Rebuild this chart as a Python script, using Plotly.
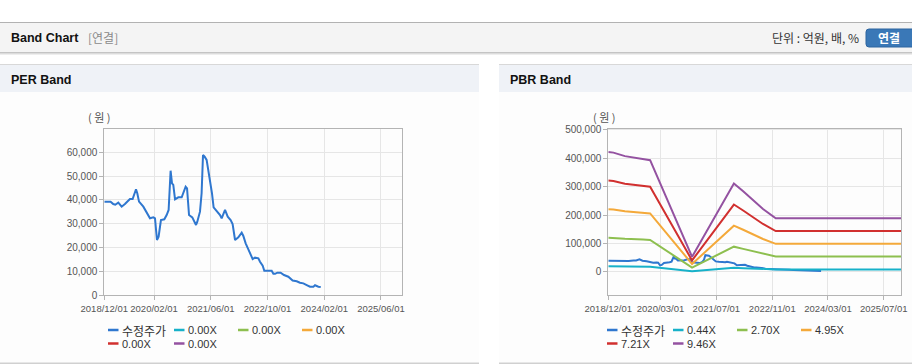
import plotly.graph_objects as go

# ---------------- data ----------------
price_dates = ["2018-12-01","2019-01-24","2019-02-16","2019-03-05","2019-03-31","2019-04-29","2019-05-27",
               "2019-07-09","2019-08-01","2019-08-30","2019-09-10","2019-09-25","2019-11-01","2019-12-05",
               "2019-12-28","2020-01-26","2020-02-09","2020-02-26","2020-03-11","2020-03-31","2020-04-29",
               "2020-05-19","2020-06-05","2020-06-22","2020-07-04","2020-07-15","2020-07-30","2020-08-27",
               "2020-09-25","2020-10-29","2020-11-10","2020-11-27","2020-12-25","2021-01-26","2021-02-06",
               "2021-03-01","2021-03-15","2021-03-27","2021-04-10","2021-04-27","2021-05-12","2021-05-26",
               "2021-06-12","2021-06-26","2021-07-22","2021-08-20","2021-09-03","2021-09-17","2021-10-02",
               "2021-10-25","2021-11-19","2021-12-06","2021-12-27","2022-01-24","2022-02-22","2022-03-08",
               "2022-03-28","2022-04-20","2022-05-10","2022-05-27","2022-06-16","2022-07-15","2022-07-29",
               "2022-08-21","2022-09-04","2022-09-30","2022-11-06","2022-11-21","2022-12-05","2022-12-25",
               "2023-01-22","2023-02-20","2023-03-29","2023-05-05","2023-06-09","2023-07-07","2023-08-05",
               "2023-09-03","2023-10-01","2023-10-30","2023-11-13","2023-12-12","2024-01-01"]
price_values = [39300,39300,38300,38000,38900,37200,38300,40400,40400,44500,42800,39300,37200,34400,
                32300,32700,32300,23200,24600,31600,31900,33700,35800,52300,47000,46300,40300,41100,
                41100,45600,44900,33700,32700,29500,30900,35100,42800,58900,58200,56800,52600,47700,
                42800,36900,35400,33700,32300,33700,35800,33000,31600,29900,23200,24300,26300,24900,
                21800,19300,16900,15200,15800,15500,14100,12400,10300,10300,10300,9000,9000,9500,
                9500,8500,7800,6200,5900,5300,5000,4300,3600,3600,4200,3600,3500]

band_dates = ["2018-12-01","2019-01-15","2019-04-25","2019-10-01","2019-12-01","2020-12-01",
              "2021-12-01","2022-02-20","2022-05-15","2022-08-12","2022-12-01","2025-12-01"]
band_044 = [19624,19536,18964,18524,18304,2464,14476,13200,11836,10296,8778,8778]
band_270 = [120420,119880,116370,113670,112320,15120,88830,81000,72630,63180,53865,53865]
band_495 = [220770,219780,213345,208395,205920,27720,162855,148500,133155,115830,98753,98753]
band_721 = [321566,320124,310751,303541,299936,40376,237209,216300,193949,168714,143840,143840]
band_946 = [421916,420024,407726,398266,393536,52976,311234,283800,254474,221364,188727,188727]

per_legend = ["수정주가", "0.00X", "0.00X", "0.00X", "0.00X", "0.00X"]
pbr_legend = ["수정주가", "0.44X", "2.70X", "4.95X", "7.21X", "9.46X"]

per_tickvals = ["2018-12-01","2020-02-01","2021-06-01","2022-10-01","2024-02-01","2025-06-01"]
per_ticktext = ["2018/12/01","2020/02/01","2021/06/01","2022/10/01","2024/02/01","2025/06/01"]
pbr_tickvals = ["2018-12-01","2020-03-01","2021-07-01","2022-11-01","2024-03-01","2025-07-01"]
pbr_ticktext = ["2018/12/01","2020/03/01","2021/07/01","2022/11/01","2024/03/01","2025/07/01"]
per_yticks = [0,10000,20000,30000,40000,50000,60000]
pbr_yticks = [0,100000,200000,300000,400000,500000]

colors = ["#2f77cf", "#17b1c9", "#8dbf4f", "#f4a93a", "#d1302f", "#9452a1"]

# ---------------- helpers ----------------
W, H = 912, 364
def px(x): return x / W
def py(y): return 1 - y / H

FONT = "Liberation Sans, Arial, Noto Sans CJK KR, sans-serif"
KFONT = "Noto Sans CJK KR, Liberation Sans, sans-serif"

fig = go.Figure()

# PBR traces
band_series = [band_044, band_270, band_495, band_721, band_946]
fig.add_trace(go.Scatter(x=price_dates, y=price_values, mode="lines", xaxis="x2", yaxis="y2",
                         line=dict(color=colors[0], width=2), showlegend=False, hoverinfo="skip"))
for i, s in enumerate(band_series):
    fig.add_trace(go.Scatter(x=band_dates, y=s, mode="lines", xaxis="x2", yaxis="y2",
                             line=dict(color=colors[i + 1], width=2), showlegend=False, hoverinfo="skip"))
# PER trace
fig.add_trace(go.Scatter(x=price_dates, y=price_values, mode="lines", xaxis="x", yaxis="y",
                         line=dict(color=colors[0], width=2), showlegend=False, hoverinfo="skip"))

ydom = [py(295.3), py(128.5)]
common_x = dict(type="date", showgrid=True, gridcolor="#e6e6e6", gridwidth=1, showline=True,
                linecolor="#b4b4b4", linewidth=1, mirror=True, ticks="outside", ticklen=4,
                tickcolor="#b4b4b4", tickangle=0, tickfont=dict(family=FONT, size=9.5, color="#555"),
                zeroline=False, automargin=False, fixedrange=True)
common_y = dict(showgrid=True, gridcolor="#e6e6e6", gridwidth=1, showline=True, linecolor="#b4b4b4",
                linewidth=1, mirror=True, ticks="outside", ticklen=4, tickcolor="#b4b4b4",
                tickformat=",d", tickfont=dict(family=FONT, size=10, color="#555"),
                zeroline=False, automargin=False, fixedrange=True)

fig.update_layout(
    width=W, height=H, margin=dict(l=0, r=0, t=0, b=0),
    paper_bgcolor="#ffffff", plot_bgcolor="#ffffff", showlegend=False,
    font=dict(family=FONT),
    xaxis=dict(common_x, domain=[px(104.3), px(402.3)], anchor="y",
               range=["2018-12-01", "2025-12-01"], tickvals=per_tickvals, ticktext=per_ticktext),
    yaxis=dict(common_y, domain=ydom, anchor="x", range=[0, 70000], tickvals=per_yticks),
    xaxis2=dict(common_x, domain=[px(608.3), px(901.3)], anchor="y2",
                range=["2018-12-01", "2025-12-01"], tickvals=pbr_tickvals, ticktext=pbr_ticktext),
    yaxis2=dict(common_y, domain=ydom, anchor="x2", range=[-82500, 505000], tickvals=pbr_yticks),
)

shapes = []
def rect(x0, y0, x1, y1, color, layer="below"):
    shapes.append(dict(type="rect", xref="paper", yref="paper", x0=px(x0), x1=px(x1),
                       y0=py(y1), y1=py(y0), fillcolor=color, line=dict(width=0), layer=layer))

# header
rect(0, 22, 912, 53, "#f4f4f4")
rect(0, 22, 912, 23, "#b2b2b2")
rect(0, 52, 912, 53, "#c4c4c4")
rect(0, 53, 912, 54, "#dcdcdc")
rect(0, 54, 912, 55, "#eeeeee")
# panels
for x0, x1 in [(0, 479), (499, 912)]:
    rect(x0, 64, x1, 92, "#eff2f7")
    rect(x0, 64, x1, 65, "#d8d8d8")
    rect(x0, 92, x1, 362.5, "#fdfdfd")
    rect(x0, 362.5, x1, 364, "#d0d0d0")
# button
bx0, bx1, by0, by1, r = 866, 914, 29, 47, 3
path = (f"M {px(bx0+r)},{py(by0)} L {px(bx1)},{py(by0)} L {px(bx1)},{py(by1)} L {px(bx0+r)},{py(by1)} "
        f"Q {px(bx0)},{py(by1)} {px(bx0)},{py(by1-r)} L {px(bx0)},{py(by0+r)} "
        f"Q {px(bx0)},{py(by0)} {px(bx0+r)},{py(by0)} Z")
shapes.append(dict(type="path", xref="paper", yref="paper", path=path, fillcolor="#3a78b7",
                   line=dict(color="#2c649f", width=1), layer="below"))

annotations = []
def text(x, y, s, size=12, color="#333", bold=False, anchor="left", family=FONT):
    if bold:
        s = f"<b>{s}</b>"
    annotations.append(dict(x=px(x), y=py(y), xref="paper", yref="paper", text=s, showarrow=False,
                            xanchor=anchor, yanchor="middle", borderpad=0,
                            font=dict(family=family, size=size, color=color)))

text(10, 38, "Band Chart", size=12.5, color="#111", bold=True)
text(87, 38, "[연결]", size=12, color="#8a8a8a", family=KFONT)
text(860, 38, "단위 : 억원, 배, %", size=12, color="#333", anchor="right", family=KFONT)
text(889, 38, "연결", size=12, color="#ffffff", bold=True, anchor="center", family=KFONT)
text(10, 80, "PER Band", size=12.5, color="#111", bold=True)
text(509, 80, "PBR Band", size=12.5, color="#111", bold=True)
text(87, 117, "( 원 )", size=11, color="#555", family=KFONT)
text(592, 117, "( 원 )", size=11, color="#555", family=KFONT)

def legend(cols, labels):
    rows = [330, 343.5]
    for i, lab in enumerate(labels):
        row, col = divmod(i, 4)
        x0 = cols[col]
        y = rows[row]
        shapes.append(dict(type="line", xref="paper", yref="paper", x0=px(x0), x1=px(x0 + 10.5),
                           y0=py(y), y1=py(y), line=dict(color=colors[i], width=2.5), layer="above"))
        if lab == "수정주가":
            text(x0 + 12.5, y, lab, size=12, color="#333", family=KFONT)
        else:
            text(x0 + 12.5, y, lab, size=11, color="#333", family=FONT)

legend([108, 174, 238, 302], per_legend)
legend([607, 673, 737, 801], pbr_legend)

fig.update_layout(shapes=shapes, annotations=annotations)
fig.write_html("out.html", config={"displayModeBar": False, "staticPlot": True},
               post_script="document.body.style.margin='0';document.body.style.overflow='hidden';")
